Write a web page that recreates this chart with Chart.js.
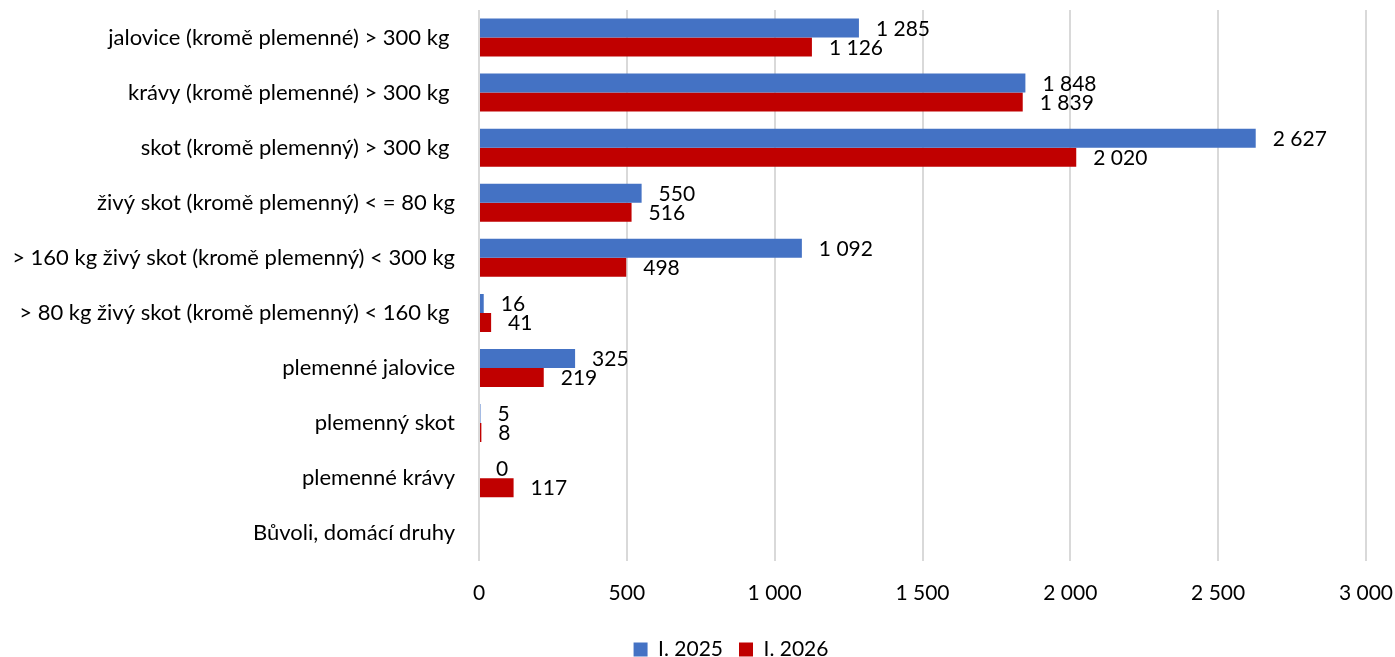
<!DOCTYPE html>
<html>
<head>
<meta charset="utf-8">
<script src="https://cdn.jsdelivr.net/npm/chart.js@4"></script>
<style>
html,body{margin:0;padding:0;background:#fff;}
#wrap{width:1395px;height:657px;position:relative;}
</style>
</head>
<body>
<div id="wrap"><canvas id="c"></canvas></div>
<script>
const categories = [
  "jalovice (kromě plemenné) > 300 kg ",
  "krávy (kromě plemenné) > 300 kg ",
  "skot (kromě plemenný) > 300 kg ",
  "živý skot (kromě plemenný) < = 80 kg",
  "> 160 kg živý skot (kromě plemenný) < 300 kg",
  "> 80 kg živý skot (kromě plemenný) < 160 kg ",
  "plemenné jalovice",
  "plemenný skot",
  "plemenné krávy",
  "Bůvoli, domácí druhy"
];
const series2025 = [1285, 1848, 2627, 550, 1092, 16, 325, 5, 0, null];
const series2026 = [1126, 1839, 2020, 516, 498, 41, 219, 8, 117, null];
const xTicks = [0, 500, 1000, 1500, 2000, 2500, 3000];

const FONT = "Lato, 'Open Sans', sans-serif";
const FS = 21;
const fmt = v => String(v).replace(/\B(?=(\d{3})+(?!\d))/g, ' ');

const labelPlugin = {
  id: 'barLabels',
  afterLayout(chart) {
    const lg = chart.legend;
    if (lg) { lg.left += 48; lg.right += 48; lg.top += 1; lg.bottom += 1; }
  },
  afterDatasetsDraw(chart) {
    const ctx = chart.ctx;
    ctx.save();
    ctx.font = FS + "px " + FONT;
    ctx.fillStyle = "#000";
    ctx.textAlign = "left";
    ctx.textBaseline = "middle";
    chart.data.datasets.forEach((ds, i) => {
      const meta = chart.getDatasetMeta(i);
      meta.data.forEach((el, j) => {
        const v = ds.data[j];
        if (v === null || v === undefined) return;
        ctx.fillText(fmt(v), el.x + 17, el.y + 1);
      });
    });
    ctx.restore();
  }
};

new Chart(document.getElementById('c'), {
  type: 'bar',
  data: {
    labels: categories,
    datasets: [
      { label: 'I. 2025', data: series2025, backgroundColor: '#4472C4', borderWidth: 0 },
      { label: 'I. 2026', data: series2026, backgroundColor: '#C00000', borderWidth: 0 }
    ]
  },
  options: {
    indexAxis: 'y',
    responsive: true,
    maintainAspectRatio: false,
    animation: false,
    layout: { padding: { left: 0, right: 29, top: 10, bottom: -12 } },
    datasets: { bar: { categoryPercentage: 0.69, barPercentage: 1.0 } },
    plugins: {
      legend: {
        position: 'bottom',
        labels: {
          font: { size: FS, family: FONT },
          color: '#000',
          boxWidth: 14,
          boxHeight: 14,
          padding: 16
        }
      },
      tooltip: { enabled: false }
    },
    scales: {
      x: {
        min: 0, max: 3000,
        afterBuildTicks: s => { s.ticks = xTicks.map(v => ({ value: v })); },
        afterFit: s => { s.paddingRight = 0; s.paddingLeft = 0; s.height -= 4; },
        ticks: {
          font: { size: FS, family: FONT },
          color: '#000',
          padding: 20,
          callback: v => fmt(v)
        },
        grid: { color: '#d9d9d9', lineWidth: 2, drawTicks: false },
        border: { display: false }
      },
      y: {
        afterFit: s => { s.width = 479; s.paddingTop = 0; s.paddingBottom = 0; },
        ticks: {
          font: { size: 22, family: FONT },
          color: '#000',
          padding: 16
        },
        grid: { display: false },
        border: { display: false }
      }
    }
  },
  plugins: [labelPlugin]
});
</script>
</body>
</html>
